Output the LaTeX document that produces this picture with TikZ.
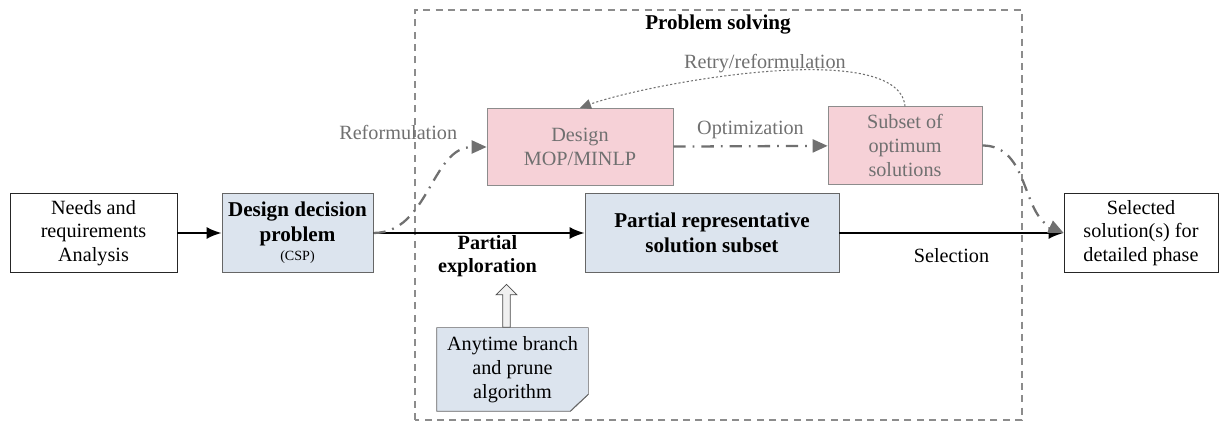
\documentclass[tikz,border=0pt]{standalone}
\usepackage{fontspec}
\setmainfont{Liberation Serif}
\usetikzlibrary{arrows.meta,shapes.arrows,backgrounds}
\definecolor{probblue}{HTML}{DCE4EE}
\definecolor{optpink}{HTML}{F6D1D7}
\definecolor{softgray}{HTML}{707070}
\tikzset{
	phase/.style={draw=black!85, fill=white, align=center, minimum height=1.58cm, font=\fontsize{11.5}{13.5}\selectfont},
	solvebox/.style={draw=black!60, fill=probblue, align=center, minimum height=1.58cm, font=\bfseries\fontsize{12}{14}\selectfont},
	optbox/.style={draw=black!45, fill=optpink, text=softgray, align=center, minimum height=1.55cm, font=\fontsize{11.5}{13.5}\selectfont},
	flow/.style={-{Latex[length=3mm,width=2.4mm]}, line width=1.2pt},
	dashdot/.style={-{Triangle[length=3mm,width=2.6mm]}, color=softgray, line width=1.3pt, dash pattern=on 7pt off 4pt on 1pt off 4pt},
	lbl/.style={font=\fontsize{11.5}{13.5}\selectfont, align=center},
	fatarrow/.style={single arrow, draw=black!70, fill=black!6, minimum height=0.86cm, minimum width=0.42cm, single arrow head extend=0.1cm, inner sep=0.05cm, shape border rotate=90}
}
\begin{document}
\begin{tikzpicture}
			\useasboundingbox (0,0) rectangle (24.44,8.46);
			\draw[black!45, dash pattern=on 4pt off 3pt, line width=0.7pt] (8.30,0.06) rectangle (20.44,8.26);
			\node[font=\bfseries\fontsize{12}{14}\selectfont] (solving) at (14.36,7.96) {Problem solving};

			\node[phase, minimum width=3.34cm] (needs) at (1.87,3.80) {Needs and\\requirements\\Analysis};
			\node[solvebox, minimum width=3.02cm] (ddp) at (5.95,3.80) {Design decision\\problem\\[-3pt]{\mdseries\fontsize{8}{9}\selectfont(CSP)}};
			\node[optbox, minimum width=3.72cm] (mop) at (11.60,5.52) {Design\\MOP/MINLP};
			\node[optbox, minimum width=3.08cm] (optsub) at (18.10,5.55) {Subset of\\optimum\\solutions};
			\node[solvebox, minimum width=5.08cm] (prs) at (14.24,3.80) {Partial representative\\solution subset};
			\node[phase, minimum width=3.08cm] (chosen) at (22.82,3.80) {Selected\\solution(s) for\\detailed phase};
			\node[lbl, minimum width=3.02cm, minimum height=1.66cm] (anytime) at (10.25,1.07) {Anytime branch\\and prune\\algorithm};
			\begin{scope}[on background layer]
				\filldraw[draw=black!60, fill=probblue] (anytime.north west) -- (anytime.north east) -- ([yshift=0.34cm]anytime.south east) -- ([xshift=-0.36cm]anytime.south east) -- (anytime.south west) -- cycle;
				\filldraw[draw=black!60, fill=black!25] ([yshift=0.34cm]anytime.south east) -- ([xshift=-0.22cm,yshift=0.14cm]anytime.south east) -- ([xshift=-0.36cm]anytime.south east) -- cycle;
			\end{scope}
			\node[fatarrow, anchor=tail] (push) at ([xshift=-0.12cm]anytime.north) {};

			\path[flow]
			(needs) edge (ddp)
			(ddp) edge node[pos=0.54, below, inner sep=1pt, lbl, font=\bfseries\fontsize{11.5}{13}\selectfont]{Partial\\exploration} (prs)
			(prs) edge node[pos=0.5, below=5pt, lbl]{Selection} (chosen);
			\path[dashdot]
			(ddp.east) edge[out=0, in=180] node[at end, anchor=south east, xshift=-0.45cm, lbl]{Reformulation} (mop.west)
			(mop) edge node[above, lbl]{Optimization} (optsub)
			(optsub.east) edge[out=0, in=155] (chosen.west);
			\path[-{Triangle[length=2.2mm,width=2mm]}, color=softgray, dash pattern=on 1.2pt off 1.2pt, line width=0.6pt]
			(optsub.north) edge[out=95, in=20, looseness=0.55] node[pos=0.5, above=-4pt, lbl]{Retry/reformulation} (mop.north);
		\end{tikzpicture}
\end{document}
